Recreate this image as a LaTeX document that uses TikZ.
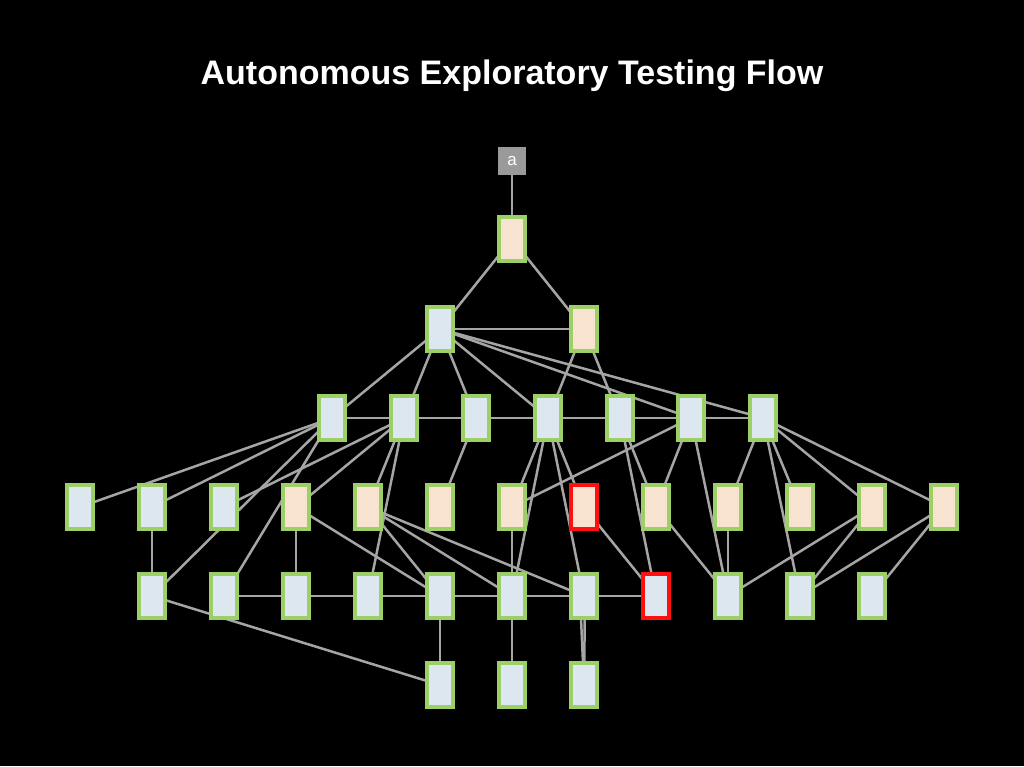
\documentclass[tikz,border=0pt]{standalone}
\usepackage{fontspec}
\setmainfont{Liberation Sans}
\usetikzlibrary{backgrounds}

\definecolor{framegreen}{HTML}{9CCF65}
\definecolor{framered}{HTML}{FF1010}
\definecolor{linkgray}{HTML}{A5A5A5}
\definecolor{shotblue}{HTML}{DCE7EF}
\definecolor{shotpeach}{HTML}{F7E3D0}
\definecolor{startgray}{HTML}{9A9A9A}

\tikzset{
  shot/.style={draw=framegreen, line width=4pt, fill=shotblue, minimum width=26pt, minimum height=44pt, inner sep=0pt},
  warm/.style={shot, fill=shotpeach},
  crash/.style={shot, draw=framered, fill=shotpeach},
  link/.style={draw=linkgray, line width=2.5pt},
}

\begin{document}
\begin{tikzpicture}[x=1pt,y=-1pt]

    \begin{scope}[on background layer]
        \fill[black] (0,0) rectangle (1024,766);
    \end{scope}
    \useasboundingbox (0,0) rectangle (1024,766);

    \node[text=white, font=\bfseries\fontsize{34}{38}\selectfont] (title) at (512,76) {Autonomous Exploratory Testing Flow};

    \node[fill=startgray, text=white, minimum size=28pt, inner sep=0pt, font=\fontsize{17}{18}\selectfont] (start) at (512,161) {a};
    \node[shot, fill=shotpeach] (home) at (512,239) {};
    \node[shot] (m1) at (440,329) {};
    \node[shot, fill=shotpeach] (m2) at (584,329) {};

    \foreach \i/\x in {1/332,2/404,3/476,4/548,5/620,6/691,7/763}
        \node[shot] (b\i) at (\x,418) {};

    \foreach \i/\x/\s in {1/80/shot,2/152/shot,3/224/shot,4/296/warm,5/368/warm,6/440/warm,7/512/warm,
                          8/584/crash,9/656/warm,10/728/warm,11/800/warm,12/872/warm,13/944/warm}
        \node[\s] (c\i) at (\x,507) {};

    \foreach \i/\x in {1/152,2/224,3/296,4/368,5/440,6/512,7/584,9/728,10/800,11/872}
        \node[shot] (d\i) at (\x,596) {};
    \node[shot, draw=framered] (d8) at (656,596) {};

    \foreach \i/\x in {1/440,2/512,3/584}
        \node[shot] (e\i) at (\x,685) {};

    \begin{scope}[on background layer]
        \foreach \s/\t in {start/home,home/m1,home/m2,m1/m2}
            \draw[link] (\s.center) -- (\t.center);
        \foreach \t in {b1,b2,b3,b4,b6,b7} \draw[link] (m1.center) -- (\t.center);
        \foreach \t in {b4,b5} \draw[link] (m2.center) -- (\t.center);
        \draw[link] (b1.center) -- (b7.center);

        % third row down
        \foreach \s/\t in {b1/c1,b1/c2,b1/d1,b1/d2,b2/c3,b2/c4,b2/c5,b2/d4,b3/c6,
                           b4/c7,b4/c8,b4/d6,b4/d7,b5/c9,b5/d8,b6/c7,b6/c9,b6/d9,
                           b7/c10,b7/c11,b7/c12,b7/c13,b7/d10}
            \draw[link] (\s.center) -- (\t.center);

        % fourth row down
        \foreach \s/\t in {c2/d1,c4/d3,c4/d5,c5/d5,c5/d6,c5/d7,c7/d6,c8/d8,
                           c9/d9,c10/d9,c12/d9,c12/d10,c13/d10,c13/d11}
            \draw[link] (\s.center) -- (\t.center);
        \draw[link] (d2.center) -- (d8.center);

        \foreach \s/\t in {d1/e1,d5/e1,d6/e2}
            \draw[link] (\s.center) -- (\t.center);
        \draw[link] ([xshift=-4pt]d7.center) -- (e3.center);
        \draw[link] ([xshift=1pt]d7.center) -- (e3.center);
    \end{scope}

\end{tikzpicture}
\end{document}
